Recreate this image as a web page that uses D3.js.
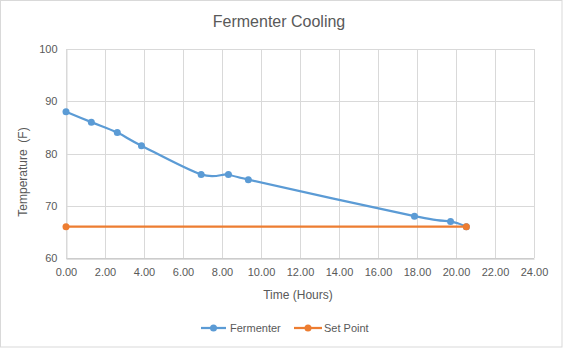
<!DOCTYPE html>
<html><head><meta charset="utf-8">
<script src="https://cdn.jsdelivr.net/npm/d3@7"></script>
<style>html,body{margin:0;padding:0;background:#fff;}svg{display:block;font-family:"Liberation Sans",Arial,sans-serif;}</style>
</head><body>
<script>
const fermenterTime = [0, 1.30, 2.63, 3.87, 6.93, 8.33, 9.35, 17.87, 19.72, 20.53];
const fermenterTemp = [88, 86, 84, 81.5, 76, 76, 75, 68, 67, 66];
const setPointTime = [0, 20.53];
const setPointTemp = [66, 66];
const xTicks = [0, 2, 4, 6, 8, 10, 12, 14, 16, 18, 20, 22, 24];
const yTicks = [60, 70, 80, 90, 100];
const seriesNames = ["Fermenter", "Set Point"];
const colors = ["#5b9bd5", "#ed7d31"];

const W = 563, H = 348;
const svg = d3.select("body").append("svg").attr("width", W).attr("height", H);
svg.append("rect").attr("x", 0.5).attr("y", 0.5).attr("width", W - 1.5).attr("height", H - 1.5)
  .attr("fill", "#fff").attr("stroke", "#d9d9d9");

const x = d3.scaleLinear().domain([0, 24]).range([66, 534]);
const y = d3.scaleLinear().domain([60, 100]).range([258, 49]);

// gridlines
const g = svg.append("g");
g.selectAll(".hg").data(yTicks).join("line")
  .attr("x1", x(0)).attr("x2", x(24)).attr("y1", d => Math.round(y(d)) + 0.5).attr("y2", d => Math.round(y(d)) + 0.5)
  .attr("stroke", "#d9d9d9").attr("stroke-width", 1);
g.selectAll(".vg").data(xTicks).join("line")
  .attr("y1", y(60)).attr("y2", y(100)).attr("x1", d => Math.round(x(d)) + 0.5).attr("x2", d => Math.round(x(d)) + 0.5)
  .attr("stroke", "#d9d9d9").attr("stroke-width", 1);

// x axis
const xAxis = d3.axisBottom(x).tickValues(xTicks).tickFormat(d3.format(".2f")).tickSize(0).tickPadding(10);
const xa = svg.append("g").attr("transform", `translate(0,${Math.round(y(60)) + 0.5})`).call(xAxis);
xa.select(".domain").attr("stroke", "#bfbfbf");
xa.selectAll("text").attr("fill", "#595959").attr("font-size", "11px").attr("font-family", "Liberation Sans, Arial, sans-serif");

// y axis
const yAxis = d3.axisLeft(y).tickValues(yTicks).tickSize(0).tickPadding(9);
const ya = svg.append("g").attr("transform", `translate(${Math.round(x(0)) + 0.5},0)`).call(yAxis);
ya.select(".domain").attr("stroke", "#d9d9d9");
ya.selectAll("text").attr("fill", "#595959").attr("font-size", "11px").attr("font-family", "Liberation Sans, Arial, sans-serif");

// title
svg.append("text").attr("x", 279).attr("y", 27).attr("text-anchor", "middle")
  .attr("font-size", "16px").attr("fill", "#595959").text("Fermenter Cooling");

// axis titles
svg.append("text").attr("x", 298).attr("y", 299).attr("text-anchor", "middle")
  .attr("font-size", "12px").attr("fill", "#595959").text("Time (Hours)");
svg.append("text").attr("transform", "translate(27,172) rotate(-90)").attr("text-anchor", "middle")
  .attr("font-size", "12px").attr("fill", "#595959").style("white-space", "pre").text("Temperature  (F)");

// series
const fData = fermenterTime.map((t, i) => [t, fermenterTemp[i]]);
const sData = setPointTime.map((t, i) => [t, setPointTemp[i]]);
const lineSmooth = d3.line().x(d => x(d[0])).y(d => y(d[1])).curve(d3.curveCatmullRom.alpha(0));
const lineStraight = d3.line().x(d => x(d[0])).y(d => y(d[1]));

svg.append("path").datum(fData).attr("d", lineSmooth).attr("fill", "none")
  .attr("stroke", colors[0]).attr("stroke-width", 2.25).attr("stroke-linejoin", "round").attr("stroke-linecap", "round");
svg.selectAll(".fm").data(fData).join("circle")
  .attr("cx", d => x(d[0])).attr("cy", d => y(d[1])).attr("r", 3.5).attr("fill", colors[0]);

svg.append("path").datum(sData).attr("d", lineStraight).attr("fill", "none")
  .attr("stroke", colors[1]).attr("stroke-width", 2.25).attr("stroke-linecap", "round");
svg.selectAll(".sm").data(sData).join("circle")
  .attr("cx", d => x(d[0])).attr("cy", d => y(d[1])).attr("r", 3.5).attr("fill", colors[1]);

// legend
const legendItems = [{x1: 201, x2: 226, tx: 230}, {x1: 294, x2: 322, tx: 324}];
const ly = 328;
legendItems.forEach((it, i) => {
  svg.append("line").attr("x1", it.x1).attr("x2", it.x2).attr("y1", ly).attr("y2", ly)
    .attr("stroke", colors[i]).attr("stroke-width", 2.25);
  svg.append("circle").attr("cx", (it.x1 + it.x2) / 2).attr("cy", ly).attr("r", 3.5).attr("fill", colors[i]);
  svg.append("text").attr("x", it.tx).attr("y", ly + 4).attr("font-size", "11px").attr("fill", "#595959").text(seriesNames[i]);
});
</script>
</body></html>
